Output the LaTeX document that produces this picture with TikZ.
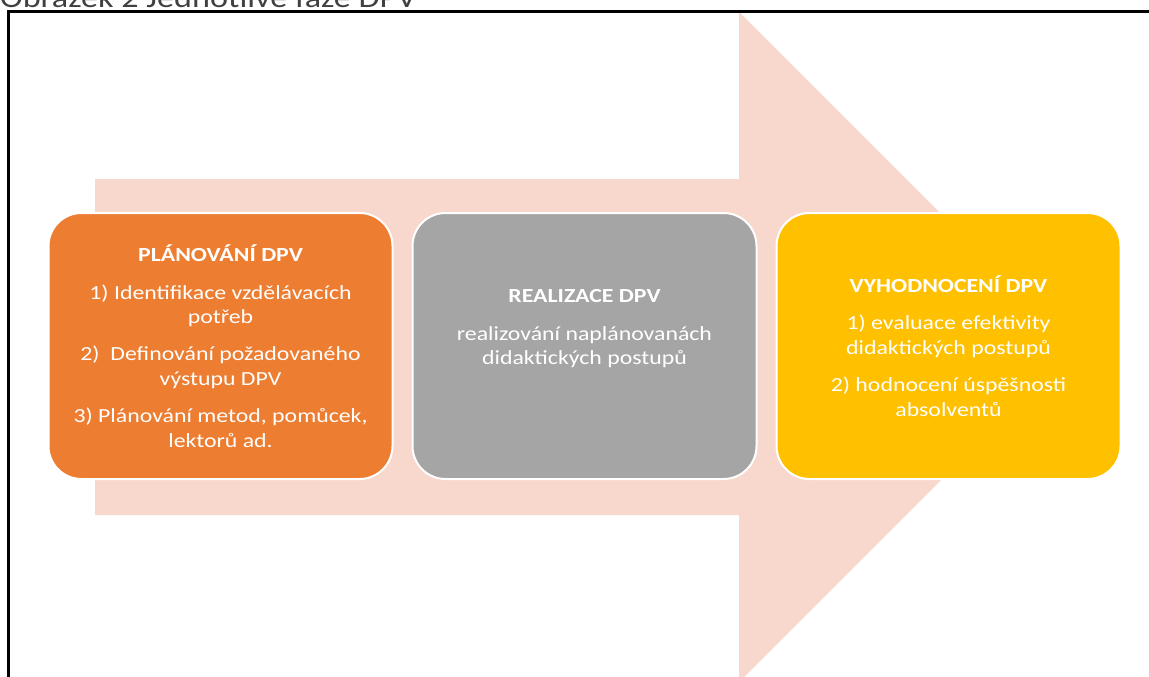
\documentclass[tikz,border=0pt]{standalone}
\usepackage{fontspec}
\setmainfont[FakeStretch=1.19]{Carlito}
\usepackage{tikz}
\usetikzlibrary{positioning}
\definecolor{arrowpink}{HTML}{F8D8CD}
\definecolor{planorange}{HTML}{ED7D31}
\definecolor{realgray}{HTML}{A5A5A5}
\definecolor{evalyellow}{HTML}{FFC000}

\begin{document}
\begin{tikzpicture}[x=1pt,y=-1pt,
  phase/.style={rounded corners=33pt, draw=white, line width=2pt,
    minimum width=344pt, minimum height=266pt, inner sep=0pt,
    align=center, text=white, font=\fontsize{20}{24.4}\selectfont}]
\useasboundingbox (0,0) rectangle (1149,677);
\clip (0,0) rectangle (1149,677);
\node[anchor=base west, inner sep=0pt, text=black!75, font=\fontsize{28.7}{32}\selectfont] (caption) at (0,7.3) {Obrázek 2 Jednotlivé fáze DPV};
\fill[arrowpink] (95,179) -- (739,179) -- (739,12) -- (1074,347) -- (739,682) -- (739,515) -- (95,515) -- cycle;
\draw[line width=2.5pt] (8.7,700) -- (8.7,11.3) -- (1160,11.3);
\node[phase, fill=planorange] (plan) at (220.5,346)
  {\textbf{PLÁNOVÁNÍ DPV}\\[13pt]
   1) Identifikace vzdělávacích\\ potřeb\\[13pt]
   2)\ \ Definování požadovaného\\ výstupu DPV\\[13pt]
   3) Plánování metod, pomůcek,\\ lektorů ad.};
\node[phase, fill=realgray, right=18pt of plan] (real)
  {\textbf{REALIZACE DPV}\\[13pt]
   realizování naplánovanách\\ didaktických postupů\\[13pt]\mbox{}};
\node[phase, fill=evalyellow, right=18pt of real] (eval)
  {\textbf{VYHODNOCENÍ DPV}\\[13pt]
   1) evaluace efektivity\\ didaktických postupů\\[13pt]
   2) hodnocení úspěšnosti\\ absolventů};
\end{tikzpicture}
\end{document}
